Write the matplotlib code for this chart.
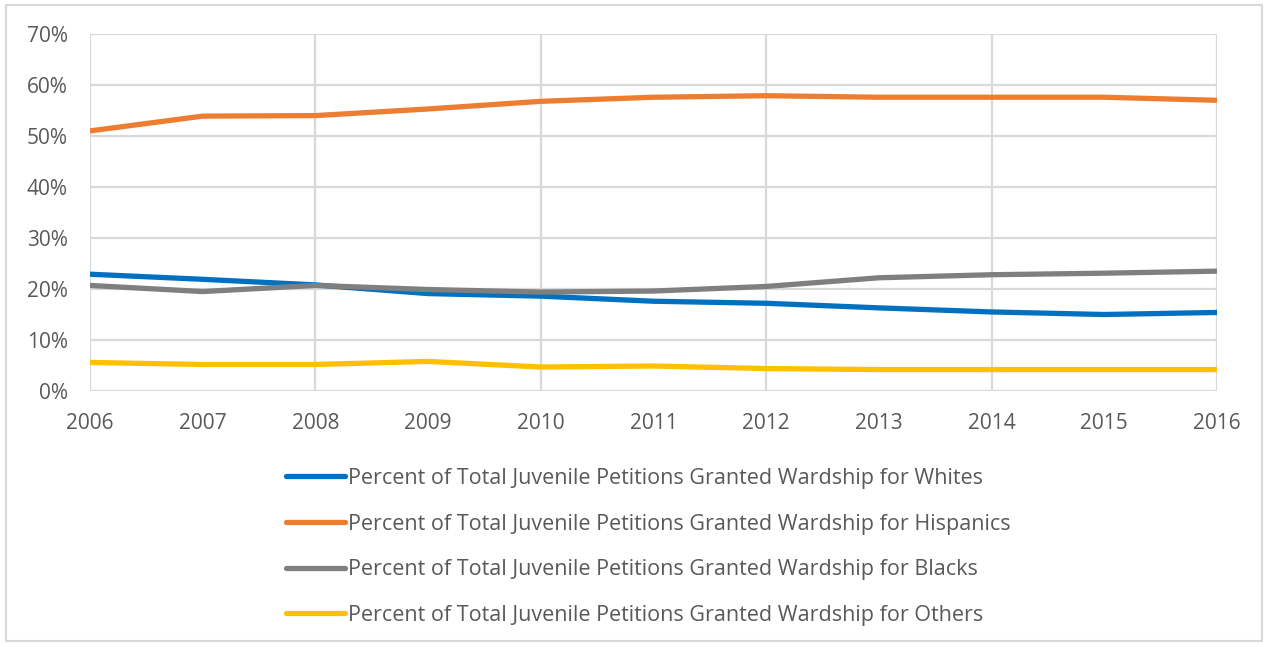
import matplotlib.pyplot as plt
from matplotlib.patches import Rectangle
from matplotlib.ticker import PercentFormatter

years = [2006, 2007, 2008, 2009, 2010, 2011, 2012, 2013, 2014, 2015, 2016]
whites = [22.9, 21.9, 20.8, 19.1, 18.6, 17.6, 17.2, 16.3, 15.5, 15.0, 15.4]
hispanics = [51.0, 53.9, 54.0, 55.3, 56.8, 57.6, 57.9, 57.6, 57.6, 57.6, 57.0]
blacks = [20.7, 19.5, 20.7, 19.9, 19.4, 19.6, 20.5, 22.2, 22.8, 23.1, 23.5]
others = [5.6, 5.2, 5.2, 5.8, 4.7, 4.9, 4.4, 4.2, 4.2, 4.2, 4.2]

labels = [
    "Percent of Total Juvenile Petitions Granted Wardship for Whites",
    "Percent of Total Juvenile Petitions Granted Wardship for Hispanics",
    "Percent of Total Juvenile Petitions Granted Wardship for Blacks",
    "Percent of Total Juvenile Petitions Granted Wardship for Others",
]
colors = ["#0070C0", "#ED7D31", "#7F7F7F", "#FFC000"]

plt.rcParams['font.family'] = ['Open Sans', 'DejaVu Sans']
txt = "#595959"
grid = "#D9D9D9"

fig = plt.figure(figsize=(12.7, 6.47), dpi=100)
ax = fig.add_axes([90 / 1270, 1 - 391 / 647, (1217 - 90) / 1270, (391 - 34) / 647])

for vals, lab, c in zip([whites, hispanics, blacks, others], labels, colors):
    ax.plot(years, vals, color=c, lw=3.8, label=lab, solid_capstyle='butt', zorder=3)

ax.set_xlim(2006, 2016)
ax.set_ylim(0, 70)
ax.set_yticks(range(0, 71, 10))
ax.yaxis.set_major_formatter(PercentFormatter(decimals=0))
ax.set_xticks(years)

ax.grid(True, color=grid, lw=1.6, zorder=0)
for i, gl in enumerate(ax.get_xgridlines()):
    if years[i] % 2 == 1:
        gl.set_visible(False)

for s in ax.spines.values():
    s.set_visible(False)
ax.tick_params(length=0, colors=txt, labelsize=15)
ax.tick_params(axis='y', pad=16)
ax.tick_params(axis='x', pad=16)

leg = ax.legend(loc='upper left', bbox_to_anchor=(286 / 1270, 1 - 468 / 647),
                bbox_transform=fig.transFigure, frameon=False, fontsize=15.5,
                handlelength=2.75, handletextpad=0.12, labelspacing=1.14,
                labelcolor=txt, borderaxespad=0, borderpad=0)
for h in leg.get_lines():
    h.set_solid_capstyle('round')

fig.patches.append(Rectangle((6 / 1270, 1 - 641 / 647), 1256 / 1270, 636 / 647,
                             transform=fig.transFigure, fill=False,
                             edgecolor="#D9D9D9", lw=1.5))

fig.savefig("out.png", dpi=100)
